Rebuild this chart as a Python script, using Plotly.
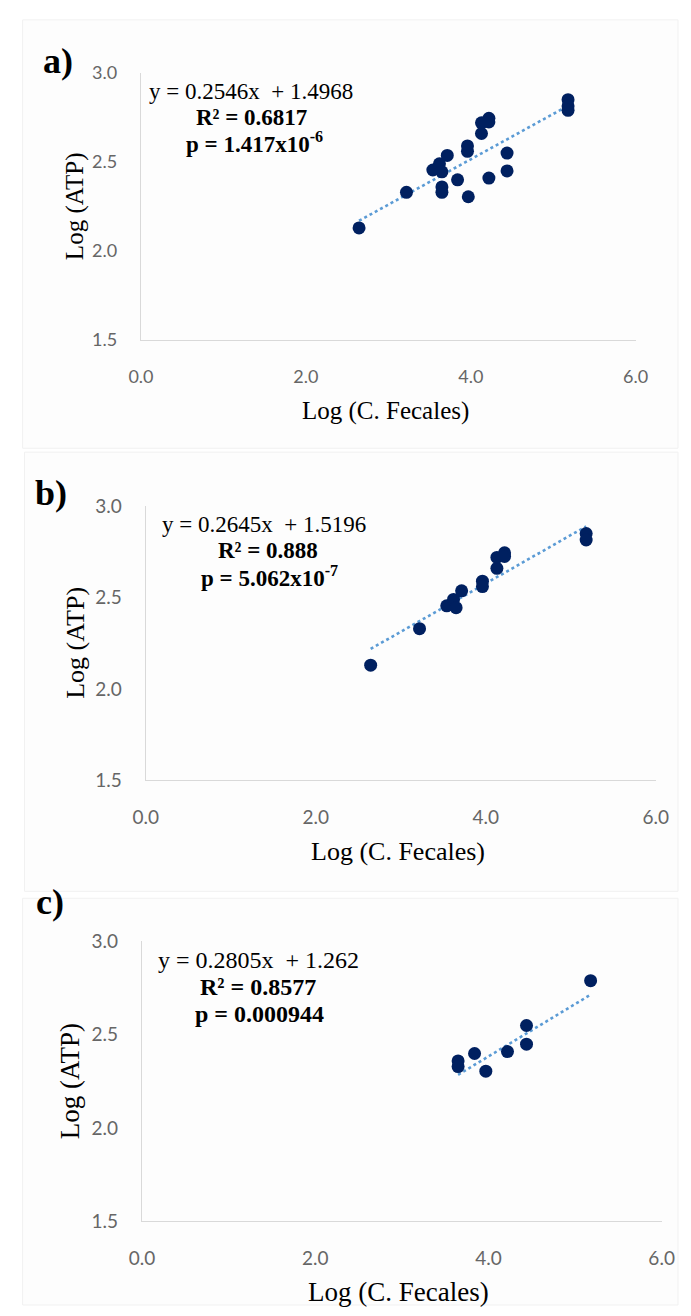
import plotly.graph_objects as go

W, H = 691, 1316

# ---------------- data ----------------
# panel b points
b_x = [2.645, 3.22, 3.54, 3.62, 3.65, 3.715, 3.96, 3.96, 4.13, 4.13, 4.22, 4.22, 5.18, 5.18]
b_y = [2.13, 2.33, 2.455, 2.49, 2.445, 2.537, 2.59, 2.56, 2.66, 2.72, 2.745, 2.725, 2.85, 2.815]
# panel c points
c_x = [3.65, 3.65, 3.84, 3.97, 4.22, 4.44, 4.44, 5.18]
c_y = [2.36, 2.33, 2.40, 2.305, 2.41, 2.55, 2.45, 2.79]
# panel a = all points
a_x = b_x + c_x
a_y = b_y + c_y

panel_labels = ["a)", "b)", "c)"]
slopes = [0.2546, 0.2645, 0.2805]
intercepts = [1.4968, 1.5196, 1.262]
eq_text = ["y = 0.2546x  + 1.4968", "y = 0.2645x  + 1.5196", "y = 0.2805x  + 1.262"]
r2_text = ["<b>R² = 0.6817</b>", "<b>R² = 0.888</b>", "<b>R² = 0.8577</b>"]
p_text = ["<b>p = 1.417x10<sup>-6</sup></b>", "<b>p = 5.062x10<sup>-7</sup></b>", "<b>p = 0.000944</b>"]
x_ticks = [0.0, 2.0, 4.0, 6.0]
y_ticks = [1.5, 2.0, 2.5, 3.0]
x_title = "Log (C. Fecales)"
y_title = "Log (ATP)"

# ---------------- layout (pixel geometry) ----------------
# (x_left, x_right, y_top(3.0), y_bottom(1.5))
geom = [(133, 647, 62, 334), (138, 668, 503, 782), (134, 674, 946, 1231)]
letter_pos = [(47, 50), (39, 490), (38, 906)]
ytitle_x = [64, 65, 60]
eq_pos = [[(247, 81), (248, 107), (251, 133)],
          [(261, 522), (265, 548), (267, 575)],
          [(255, 965), (255, 992), (256, 1020)]]
title_size = [25, 26, 27]
ann_size = [23, 23, 24]
tick_size = [18, 19, 19]

NAVY = "#002060"
TREND = "#5b9bd5"
SERIF = "Liberation Serif, Times New Roman, serif"
SANS = "Lato, Open Sans, sans-serif"

datasets = [(a_x, a_y), (b_x, b_y), (c_x, c_y)]

fig = go.Figure()
annotations = []
shapes = []

# faint panel frames
frames = [(10, 8, 691, 444), (12, 448, 691, 895), (10, 902, 691, 1316)]
for (x0, y0, x1, y1) in frames:
    shapes.append(dict(type="rect", xref="paper", yref="paper",
                       x0=x0 / W, x1=x1 / W, y0=1 - y1 / H, y1=1 - y0 / H,
                       line=dict(color="#f1f1f1", width=1), fillcolor="#fdfdfd", layer="below"))

for i, (xs, ys) in enumerate(datasets):
    k = "" if i == 0 else str(i + 1)
    xl, xr, yt, yb = geom[i]
    xmin, xmax = min(xs), max(xs)
    fig.add_trace(go.Scatter(x=[xmin, xmax],
                             y=[slopes[i] * xmin + intercepts[i], slopes[i] * xmax + intercepts[i]],
                             mode="lines", line=dict(color=TREND, width=2.6, dash="dot"),
                             xaxis="x" + k, yaxis="y" + k, showlegend=False, hoverinfo="skip"))
    fig.add_trace(go.Scatter(x=xs, y=ys, mode="markers",
                             marker=dict(color=NAVY, size=13, line=dict(width=0)),
                             xaxis="x" + k, yaxis="y" + k, showlegend=False))
    fig.layout["xaxis" + k] = dict(
        domain=[xl / W, xr / W], range=[0, 6], anchor="y" + k,
        tickvals=x_ticks, ticktext=[f"{v:.1f}" for v in x_ticks],
        showgrid=False, zeroline=False, showline=True, linecolor="#d9d9d9", linewidth=1.3,
        ticks="outside", ticklen=20, tickcolor="rgba(0,0,0,0)",
        tickfont=dict(family=SANS, size=tick_size[i], color="#666666"))
    fig.layout["yaxis" + k] = dict(
        domain=[1 - yb / H, 1 - yt / H], range=[1.5, 3.0], anchor="x" + k,
        tickvals=y_ticks, ticktext=[f"{v:.1f}" for v in y_ticks],
        showgrid=False, zeroline=False, showline=True, linecolor="#d9d9d9", linewidth=1.3,
        ticks="outside", ticklen=19, tickcolor="rgba(0,0,0,0)",
        tickfont=dict(family=SANS, size=tick_size[i], color="#666666"))

    # panel letter
    lx, ly = letter_pos[i]
    annotations.append(dict(text="<b>" + panel_labels[i] + "</b>", xref="paper", yref="paper",
                            x=lx / W, y=1 - ly / H, xanchor="center", yanchor="middle",
                            showarrow=False, font=dict(family=SERIF, size=36, color="black")))
    # axis titles
    annotations.append(dict(text=x_title, xref="paper", yref="paper",
                            x=((xl + xr) / 2 - 3) / W, y=1 - (yb + 72) / H,
                            xanchor="center", yanchor="middle", showarrow=False,
                            font=dict(family=SERIF, size=title_size[i], color="black")))
    annotations.append(dict(text=y_title, xref="paper", yref="paper", textangle=-90,
                            x=ytitle_x[i] / W, y=1 - ((yt + yb) / 2) / H,
                            xanchor="center", yanchor="middle", showarrow=False,
                            font=dict(family=SERIF, size=title_size[i], color="black")))
    # regression text
    for txt, (px, py) in zip([eq_text[i], r2_text[i], p_text[i]], eq_pos[i]):
        annotations.append(dict(text=txt, xref="paper", yref="paper",
                                x=px / W, y=1 - py / H, xanchor="center", yanchor="middle",
                                showarrow=False,
                                font=dict(family=SERIF, size=ann_size[i], color="black")))

fig.update_layout(width=W, height=H, margin=dict(l=0, r=0, t=0, b=0),
                  paper_bgcolor="white", plot_bgcolor="rgba(0,0,0,0)",
                  annotations=annotations, shapes=shapes)

fig.write_html("out.html", config={"displayModeBar": False},
               post_script="document.body.style.margin='0';document.body.style.overflow='hidden';")
